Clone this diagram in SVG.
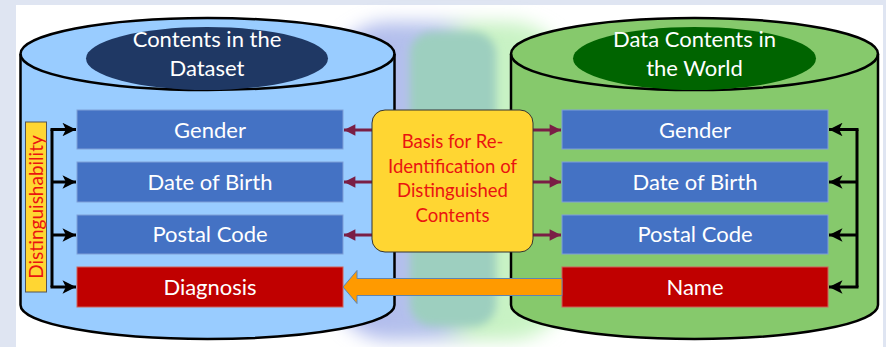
<svg xmlns="http://www.w3.org/2000/svg" width="886" height="347" viewBox="0 0 886 347">
<defs>
<style>
.lbl{font-family:Lato,"Open Sans","Liberation Sans",sans-serif;fill:#ffffff;text-anchor:middle;font-size:22px}
.ttl{font-family:Lato,"Open Sans","Liberation Sans",sans-serif;fill:#ffffff;text-anchor:middle;font-size:22px}
.red{font-family:Lato,"Open Sans","Liberation Sans",sans-serif;fill:#ea1410;text-anchor:middle;font-size:18.5px}
.blue{fill:#4472c4;stroke:#7f9fd8;stroke-width:1}
.crim{fill:#c00000;stroke:#d0605a;stroke-width:1}
.cyl{stroke:#000;stroke-width:2.5}
.mar{stroke:#7a1e45;stroke-width:3;fill:none;marker-end:url(#mh)}
.blk{stroke:#000;stroke-width:3;fill:none}
.blka{stroke:#000;stroke-width:3;fill:none;marker-end:url(#bh)}
</style>
<marker id="mh" viewBox="0 0 10 10" refX="10" refY="5" markerWidth="4.3" markerHeight="3.8" markerUnits="strokeWidth" orient="auto">
<path d="M0,0 L10,5 L0,10 Z" fill="#7a1e45"/>
</marker>
<marker id="bh" viewBox="0 0 10 10" refX="10" refY="5" markerWidth="5" markerHeight="4.5" markerUnits="strokeWidth" orient="auto">
<path d="M0,0 L10,5 L0,10 L2.5,5 Z" fill="#000"/>
</marker>
<linearGradient id="glow" x1="0" y1="0" x2="1" y2="0">
<stop offset="0" stop-color="#aeb8ef"/>
<stop offset="0.45" stop-color="#b6c3ea"/>
<stop offset="0.6" stop-color="#c6f0c2"/>
<stop offset="1" stop-color="#cdf7c8"/>
</linearGradient>
<filter id="blur1" x="-30%" y="-30%" width="160%" height="160%"><feGaussianBlur stdDeviation="9"/></filter>
<filter id="blur2" x="-30%" y="-30%" width="160%" height="160%"><feGaussianBlur stdDeviation="4"/></filter>
</defs>
<rect x="0" y="0" width="886" height="347" fill="#dfe5f2"/>
<rect x="16" y="5" width="867" height="342" fill="#ffffff"/>
<g id="glow-bg">
<rect x="330" y="22" width="240" height="318" rx="60" fill="url(#glow)" filter="url(#blur1)"/>
<rect x="410" y="32" width="86" height="294" rx="22" fill="#9dcfbf" filter="url(#blur2)"/>
</g>
<g id="dataset-cylinder">
<path class="cyl" fill="#99ccff" d="M20.5,54 A187,36 0 0 1 394.5,54 L394.5,305 A187,34 0 0 1 20.5,305 Z"/>
<path class="cyl" fill="none" d="M20.5,54 A187,36 0 0 0 394.5,54"/>
<ellipse cx="207" cy="58.5" rx="121" ry="31.5" fill="#1f3864"/>
<text class="ttl" x="207" y="47">Contents in the</text>
<text class="ttl" x="207" y="76">Dataset</text>
</g>
<g id="world-cylinder">
<path class="cyl" fill="#86c96c" d="M511,54 A183.5,36 0 0 1 878,54 L878,305 A183.5,34 0 0 1 511,305 Z"/>
<path class="cyl" fill="none" d="M511,54 A183.5,36 0 0 0 878,54"/>
<ellipse cx="694.5" cy="58.5" rx="121.5" ry="31.5" fill="#006400"/>
<text class="ttl" x="694.5" y="47">Data Contents in</text>
<text class="ttl" x="694.5" y="76">the World</text>
</g>
<g id="left-gender"><rect class="blue" x="77" y="110" width="266" height="39"/><text class="lbl" x="210" y="137.5">Gender</text></g>
<g id="left-dob"><rect class="blue" x="77" y="162" width="266" height="40"/><text class="lbl" x="210" y="189.5">Date of Birth</text></g>
<g id="left-postal"><rect class="blue" x="77" y="215" width="266" height="39"/><text class="lbl" x="210" y="241.5">Postal Code</text></g>
<g id="left-diagnosis"><rect class="crim" x="77" y="267" width="266" height="40"/><text class="lbl" x="210" y="294.5">Diagnosis</text></g>
<g id="right-gender"><rect class="blue" x="562" y="110" width="266" height="39"/><text class="lbl" x="695" y="137.5">Gender</text></g>
<g id="right-dob"><rect class="blue" x="562" y="162" width="266" height="40"/><text class="lbl" x="695" y="189.5">Date of Birth</text></g>
<g id="right-postal"><rect class="blue" x="562" y="215" width="266" height="39"/><text class="lbl" x="695" y="241.5">Postal Code</text></g>
<g id="right-name"><rect class="crim" x="562" y="267" width="266" height="40"/><text class="lbl" x="695" y="294.5">Name</text></g>
<g id="distinguishability">
<rect x="25.5" y="122" width="21" height="170" fill="#ffd632" stroke="#555" stroke-width="1"/>
<text class="red" style="font-size:19px" transform="translate(42.5,207) rotate(-90)" x="0" y="0">Distinguishability</text>
</g>
<g id="connectors">
<path class="mar" d="M372,130 L344,130"/>
<path class="mar" d="M372,182 L344,182"/>
<path class="mar" d="M372,235 L344,235"/>
<path class="mar" d="M533,130 L561,130"/>
<path class="mar" d="M533,182 L561,182"/>
<path class="mar" d="M533,235 L561,235"/>
<path class="blk" d="M52,129.5 L52,287"/>
<path class="blka" d="M50.5,129.5 L76,129.5"/>
<path class="blka" d="M52,182 L76,182"/>
<path class="blka" d="M52,235 L76,235"/>
<path class="blka" d="M50.5,287 L76,287"/>
<path class="blk" d="M857,129.5 L857,287"/>
<path class="blka" d="M858.5,129.5 L829,129.5"/>
<path class="blka" d="M857,182 L829,182"/>
<path class="blka" d="M857,235 L829,235"/>
<path class="blka" d="M858.5,287 L829,287"/>
<path d="M562,278.5 L357,278.5 L357,270.5 L343,287 L357,303.5 L357,295.5 L562,295.5 Z" fill="#ff9a00" stroke="#5f84b0" stroke-width="1"/>
</g>
<g id="basis">
<rect x="372" y="110" width="161" height="142" rx="13" fill="#ffd632" stroke="#333" stroke-width="1"/>
<text class="red" x="452.5" y="148">Basis for Re-</text>
<text class="red" x="452.5" y="172.5">Identification of</text>
<text class="red" x="452.5" y="197">Distinguished</text>
<text class="red" x="452.5" y="221.5">Contents</text>
</g>
</svg>
